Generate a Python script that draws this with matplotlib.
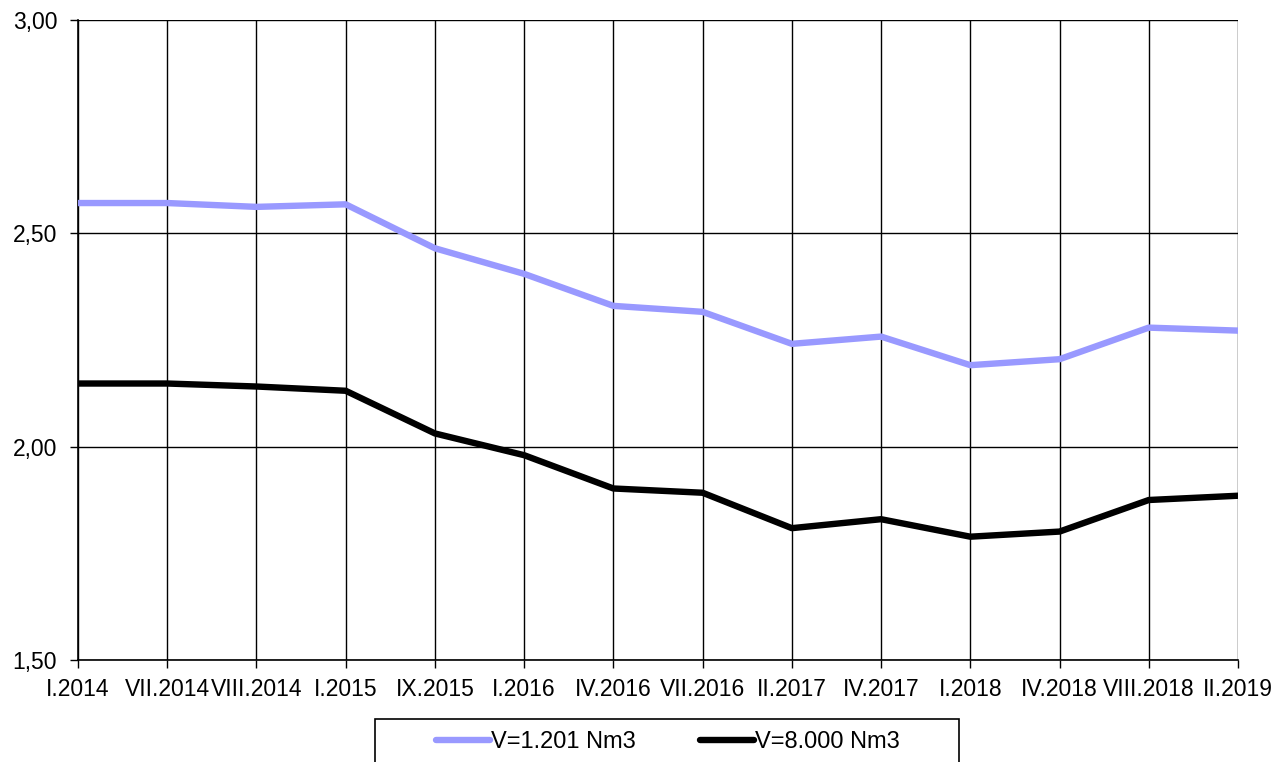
import matplotlib
matplotlib.use("Agg")
import matplotlib.pyplot as plt
from matplotlib.patches import Rectangle
from matplotlib.ticker import FuncFormatter

categories = ["I.2014", "VII.2014", "VIII.2014", "I.2015", "IX.2015", "I.2016", "IV.2016",
              "VII.2016", "II.2017", "IV.2017", "I.2018", "IV.2018", "VIII.2018", "II.2019"]
v_1201 = [2.571, 2.571, 2.562, 2.568, 2.465, 2.405, 2.330, 2.316, 2.241, 2.258, 2.191, 2.205, 2.279, 2.272]
v_8000 = [2.148, 2.148, 2.141, 2.131, 2.031, 1.980, 1.902, 1.892, 1.809, 1.830, 1.789, 1.801, 1.875, 1.885]
series_labels = ["V=1.201 Nm3", "V=8.000 Nm3"]
y_ticks = [1.5, 2.0, 2.5, 3.0]

plt.rcParams['font.family'] = ['Liberation Sans', 'DejaVu Sans']

W, H = 1277, 762
fig = plt.figure(figsize=(W / 100, H / 100), dpi=100)
ax = fig.add_axes([78 / W, 1 - 660 / H, (1238 - 78) / W, (660 - 20) / H])

x = list(range(len(categories)))
ax.plot(x, v_1201, color='#9999FF', lw=4.6, solid_joinstyle='round', solid_capstyle='round',
        label=series_labels[0], zorder=3)
ax.plot(x, v_8000, color='black', lw=4.6, solid_joinstyle='round', solid_capstyle='round',
        label=series_labels[1], zorder=3)

ax.set_xlim(0, len(categories) - 1)
ax.set_ylim(1.5, 3.0)
ax.set_xticks(x)
ax.set_xticklabels(categories)
ax.set_yticks(y_ticks)
ax.yaxis.set_major_formatter(FuncFormatter(lambda v, p: f"{v:.2f}".replace('.', ',')))
ax.grid(True, color='black', lw=1)
ax.set_axisbelow(True)
for s in ['top', 'right']:
    ax.spines[s].set_visible(False)
ax.spines['left'].set_linewidth(1.2)
ax.spines['bottom'].set_linewidth(1.2)
ax.tick_params(axis='both', direction='out', length=6, width=1, color='black',
               labelsize=16.5, labelcolor='black')
ax.tick_params(axis='x', pad=7)
ax.tick_params(axis='y', pad=9)

# legend frame
fig.patches.append(Rectangle((375 / W, 1 - 800 / H), (959 - 375) / W, (800 - 719) / H,
                             transform=fig.transFigure, fill=False, edgecolor='black', lw=1.2))
fig.legend(loc='center', bbox_to_anchor=(668 / W, 1 - 742 / H), ncol=2, frameon=False,
           fontsize=17, handlelength=2.25, handletextpad=0.05, columnspacing=2.75)

fig.savefig("out.png", dpi=100)
